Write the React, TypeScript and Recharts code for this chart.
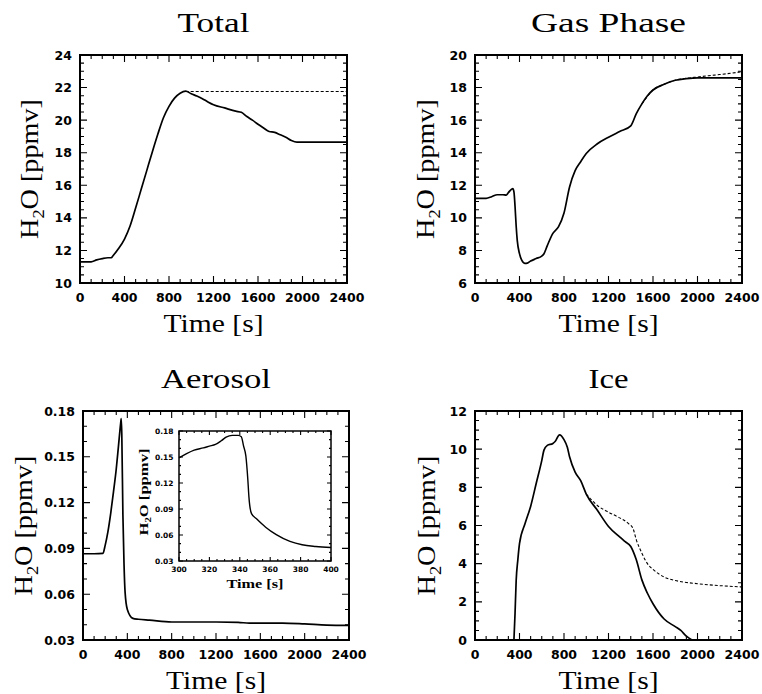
import React from 'react';
import { LineChart, Line, XAxis, YAxis } from 'recharts';

// time axis (s)
const timeMajor = [0, 400, 800, 1200, 1600, 2000, 2400];
const insetTimeMajor = [300, 320, 340, 360, 380, 400];

// Total
const totalTime = [0, 100, 150, 200, 250, 280, 300, 345, 400, 450, 500, 550, 600, 650, 700, 750, 800, 850, 900, 950, 1000, 1050, 1100, 1150, 1200, 1300, 1400, 1450, 1500, 1550, 1600, 1650, 1700, 1750, 1800, 1850, 1900, 1950, 2000, 2400];
const totalH2O = [11.3, 11.3, 11.42, 11.5, 11.55, 11.55, 11.7, 12.1, 12.7, 13.5, 14.6, 15.75, 16.9, 18.05, 19.15, 20.15, 20.85, 21.35, 21.65, 21.78, 21.62, 21.48, 21.32, 21.12, 20.95, 20.75, 20.55, 20.48, 20.22, 20.0, 19.75, 19.52, 19.3, 19.25, 19.1, 18.95, 18.75, 18.65, 18.65, 18.65];
const totalRefTime = [950, 2400];
const totalRefH2O = [21.76, 21.76];
const totalYMajor = [10, 12, 14, 16, 18, 20, 22, 24];

// Gas phase
const gasTime = [0, 100, 150, 200, 250, 280, 300, 340, 350, 360, 370, 380, 400, 420, 450, 470, 500, 550, 600, 620, 650, 700, 750, 800, 850, 900, 950, 1000, 1100, 1200, 1300, 1400, 1450, 1500, 1550, 1600, 1700, 1800, 1900, 2000, 2400];
const gasH2O = [11.2, 11.2, 11.3, 11.42, 11.42, 11.4, 11.55, 11.8, 11.6, 10.7, 9.5, 8.6, 7.8, 7.4, 7.2, 7.22, 7.35, 7.5, 7.65, 7.8, 8.3, 9.05, 9.45, 10.3, 11.9, 12.9, 13.45, 13.95, 14.55, 14.95, 15.3, 15.65, 16.4, 17.0, 17.5, 17.85, 18.2, 18.45, 18.55, 18.6, 18.6];
const gasRefTime = [1500, 1600, 1700, 1800, 1900, 2000, 2100, 2200, 2300, 2400];
const gasRefH2O = [17.0, 17.85, 18.2, 18.45, 18.57, 18.65, 18.73, 18.8, 18.88, 18.97];
const gasYMajor = [6, 8, 10, 12, 14, 16, 18, 20];

// Aerosol
const aerTime = [0, 100, 180, 200, 225, 250, 275, 300, 320, 340, 345, 350, 360, 370, 380, 400, 450, 500, 600, 800, 1000, 1200, 1400, 1500, 1800, 2000, 2200, 2400];
const aerH2O = [0.0865, 0.0865, 0.0868, 0.092, 0.101, 0.113, 0.127, 0.142, 0.157, 0.172, 0.175, 0.165, 0.112, 0.08, 0.061, 0.05, 0.0442, 0.0436, 0.043, 0.0418, 0.0418, 0.0418, 0.0416, 0.041, 0.041, 0.0405, 0.0398, 0.0396];
const aerYMajor = [0.03, 0.06, 0.09, 0.12, 0.15, 0.18];

// Aerosol inset (300-400 s)
const insetTime = [300, 305, 310, 316, 320, 324, 328, 331, 335, 339, 341, 342.5, 344, 345.3, 346, 347.7, 351, 357, 364, 373, 381, 390, 400];
const insetH2O = [0.149, 0.154, 0.158, 0.1605, 0.1625, 0.1645, 0.169, 0.173, 0.175, 0.175, 0.1734, 0.1625, 0.151, 0.1235, 0.104, 0.0846, 0.0787, 0.069, 0.0604, 0.0526, 0.0487, 0.0468, 0.0456];

// Ice
const iceTime = [350, 360, 370, 385, 400, 450, 500, 550, 600, 620, 650, 700, 720, 760, 800, 830, 850, 900, 950, 1000, 1100, 1200, 1300, 1350, 1400, 1450, 1500, 1550, 1600, 1700, 1800, 1850, 1900, 1950];
const iceH2O = [0, 1.4, 3.1, 4.2, 5.05, 6.1, 7.0, 8.2, 9.4, 9.95, 10.2, 10.3, 10.4, 10.75, 10.5, 10.1, 9.6, 8.8, 8.35, 7.65, 6.8, 5.95, 5.4, 5.15, 4.9, 4.2, 3.15, 2.45, 1.9, 1.1, 0.7, 0.5, 0.2, 0.0];
const iceRefTime = [1000, 1100, 1200, 1300, 1380, 1420, 1450, 1500, 1550, 1600, 1700, 1800, 2000, 2200, 2400];
const iceRefH2O = [7.65, 7.05, 6.7, 6.4, 6.1, 5.85, 5.25, 4.55, 4.0, 3.7, 3.3, 3.12, 2.95, 2.85, 2.78];
const iceYMajor = [0, 2, 4, 6, 8, 10, 12];

const zip = (ts: number[], vs: number[]) => ts.map((t, i) => ({ t, v: vs[i] }));
const steps = (a: number, b: number, step: number) =>
  Array.from({ length: Math.round((b - a) / step) + 1 }, (_, i) => +(a + i * step).toFixed(6));
const isMajor = (majors: number[], v: number) => majors.some((m) => Math.abs(m - v) < 1e-9);

type Rect = { left: number; top: number; right: number; bottom: number };
type TickStyle = { majorLen: number; minorLen: number; fontSize: number; gap: number; yGap: number };
type Series = { data: { t: number; v: number }[]; dashed?: boolean };
type PanelCfg = {
  rect: Rect;
  xDomain: [number, number];
  xMajor: number[];
  xMinor: number;
  yDomain: [number, number];
  yMajor: number[];
  yMinor: number;
  yFmt: (v: number) => string;
  ts: TickStyle;
  frame: number;
  lineWidth: number;
  series: Series[];
};

const tickFont = '"DejaVu Sans", sans-serif';
const serif = '"Liberation Serif", "Times New Roman", serif';

// tick labels (text only; the inward tick marks and box are drawn by <Frame/>)
const xLabel = (majors: number[], st: TickStyle) => (props: any) => {
  const v = props.payload.value;
  if (!isMajor(majors, v)) return <g />;
  return (
    <text x={props.x} y={Number(props.y) + st.gap} textAnchor="middle" fontFamily={tickFont} fontWeight={700} fontSize={st.fontSize} fill="#000">
      {String(v)}
    </text>
  );
};
const yLabel = (majors: number[], st: TickStyle, fmt: (v: number) => string) => (props: any) => {
  const v = props.payload.value;
  if (!isMajor(majors, v)) return <g />;
  return (
    <text x={Number(props.x) - st.yGap} y={props.y} dy="0.36em" textAnchor="end" fontFamily={tickFont} fontWeight={700} fontSize={st.fontSize} fill="#000">
      {fmt(v)}
    </text>
  );
};

const Panel: React.FC<{ cfg: PanelCfg }> = ({ cfg }) => {
  const { rect, xDomain, xMajor, xMinor, yDomain, yMajor, yMinor, yFmt, ts, lineWidth, series } = cfg;
  const pad = { l: 70, t: 20, r: 25, b: 30 };
  const band = { l: 60, b: 25 };
  const w = rect.right - rect.left + pad.l + pad.r;
  const h = rect.bottom - rect.top + pad.t + pad.b;
  const common = { tickSize: 0, tickMargin: 0, tickLine: false, axisLine: false, interval: 0 as const };
  return (
    <div style={{ position: 'absolute', left: rect.left - pad.l, top: rect.top - pad.t }}>
      <LineChart width={w} height={h} margin={{ top: pad.t, right: pad.r, bottom: pad.b - band.b, left: pad.l - band.l }}>
        <XAxis xAxisId="b" orientation="bottom" type="number" dataKey="t" domain={xDomain} ticks={steps(xDomain[0], xDomain[1], xMinor)}
          height={band.b} tick={xLabel(xMajor, ts)} {...common} />
        <YAxis yAxisId="l" orientation="left" type="number" domain={yDomain} ticks={steps(yDomain[0], yDomain[1], yMinor)}
          width={band.l} tick={yLabel(yMajor, ts, yFmt)} {...common} />
        {series.map((s, i) => (
          <Line key={i} xAxisId="b" yAxisId="l" data={s.data} dataKey="v" type="monotone" dot={false}
            stroke="#000" strokeWidth={s.dashed ? 1.1 : lineWidth} strokeDasharray={s.dashed ? '3 2' : undefined}
            isAnimationActive={false} />
        ))}
      </LineChart>
    </div>
  );
};

// PGPLOT-style box with inward major/minor ticks on all four sides
const Frame: React.FC<{ cfg: PanelCfg }> = ({ cfg }) => {
  const { rect: r, xDomain, xMajor, xMinor, yDomain, yMajor, yMinor, ts, frame } = cfg;
  const sx = (v: number) => r.left + ((v - xDomain[0]) / (xDomain[1] - xDomain[0])) * (r.right - r.left);
  const sy = (v: number) => r.bottom - ((v - yDomain[0]) / (yDomain[1] - yDomain[0])) * (r.bottom - r.top);
  let d = '';
  steps(xDomain[0], xDomain[1], xMinor).forEach((v) => {
    const L = isMajor(xMajor, v) ? ts.majorLen : ts.minorLen;
    const x = sx(v);
    d += `M${x},${r.bottom}V${r.bottom - L}M${x},${r.top}V${r.top + L}`;
  });
  steps(yDomain[0], yDomain[1], yMinor).forEach((v) => {
    const L = isMajor(yMajor, v) ? ts.majorLen : ts.minorLen;
    const y = sy(v);
    d += `M${r.left},${y}H${r.left + L}M${r.right},${y}H${r.right - L}`;
  });
  return (
    <g>
      <path d={d} stroke="#000" strokeWidth={1.1} fill="none" />
      <rect x={r.left} y={r.top} width={r.right - r.left} height={r.bottom - r.top} stroke="#000" strokeWidth={frame} fill="none" />
    </g>
  );
};

const rTotal: Rect = { left: 80, top: 55, right: 347, bottom: 283 };
const rGas: Rect = { left: 475, top: 55, right: 742, bottom: 283 };
const rAer: Rect = { left: 83, top: 411, right: 349, bottom: 640 };
const rIce: Rect = { left: 475, top: 411, right: 742, bottom: 640 };
const rInset: Rect = { left: 179, top: 431, right: 331, bottom: 561 };

const mainTicks: TickStyle = { majorLen: 7, minorLen: 4, fontSize: 12.5, gap: 18.5, yGap: 8 };
const insetTicks: TickStyle = { majorLen: 4, minorLen: 2, fontSize: 7.5, gap: 10.5, yGap: 5.5 };
const f2 = (v: number) => v.toFixed(2);
const fi = (v: number) => String(v);

const panels: PanelCfg[] = [
  { rect: rTotal, xDomain: [0, 2400], xMajor: timeMajor, xMinor: 100, yDomain: [10, 24], yMajor: totalYMajor, yMinor: 0.5, yFmt: fi,
    ts: mainTicks, frame: 2, lineWidth: 1.7, series: [{ data: zip(totalTime, totalH2O) }, { data: zip(totalRefTime, totalRefH2O), dashed: true }] },
  { rect: rGas, xDomain: [0, 2400], xMajor: timeMajor, xMinor: 100, yDomain: [6, 20], yMajor: gasYMajor, yMinor: 0.5, yFmt: fi,
    ts: mainTicks, frame: 2, lineWidth: 1.7, series: [{ data: zip(gasTime, gasH2O) }, { data: zip(gasRefTime, gasRefH2O), dashed: true }] },
  { rect: rAer, xDomain: [0, 2400], xMajor: timeMajor, xMinor: 100, yDomain: [0.03, 0.18], yMajor: aerYMajor, yMinor: 0.01, yFmt: f2,
    ts: mainTicks, frame: 2, lineWidth: 1.7, series: [{ data: zip(aerTime, aerH2O) }] },
  { rect: rInset, xDomain: [300, 400], xMajor: insetTimeMajor, xMinor: 5, yDomain: [0.03, 0.18], yMajor: aerYMajor, yMinor: 0.01, yFmt: f2,
    ts: insetTicks, frame: 1.5, lineWidth: 1.4, series: [{ data: zip(insetTime, insetH2O) }] },
  { rect: rIce, xDomain: [0, 2400], xMajor: timeMajor, xMinor: 100, yDomain: [0, 12], yMajor: iceYMajor, yMinor: 0.5, yFmt: fi,
    ts: mainTicks, frame: 2, lineWidth: 1.7, series: [{ data: zip(iceTime, iceH2O) }, { data: zip(iceRefTime, iceRefH2O), dashed: true }] },
];

const YTitle = ({ x, y, size, len, bold, sub }: { x: number; y: number; size: number; len: number; bold?: boolean; sub: number }) => (
  <text transform={`translate(${x},${y}) rotate(-90)`} textAnchor="middle" fontFamily={serif} fontSize={size}
    fontWeight={bold ? 700 : 400} textLength={len} lengthAdjust="spacingAndGlyphs">
    <tspan>H</tspan>
    <tspan fontSize={size * 0.65} dy={sub}>2</tspan>
    <tspan dy={-sub}>O [ppmv]</tspan>
  </text>
);

const Overlay = () => {
  const titles: [string, Rect, number][] = [
    ['Total', rTotal, 72],
    ['Gas Phase', rGas, 155],
    ['Aerosol', rAer, 110],
    ['Ice', rIce, 40],
  ];
  const yOff = [42, 41, 51, 40];
  return (
    <svg width={762} height={694} style={{ position: 'absolute', left: 0, top: 0, pointerEvents: 'none' }}>
      {panels.map((p, i) => <Frame key={i} cfg={p} />)}
      {titles.map(([t, r, len], i) => {
        const cx = (r.left + r.right) / 2;
        const cy = (r.top + r.bottom) / 2;
        return (
          <g key={t}>
            <text x={cx} y={r.top - 23} textAnchor="middle" fontFamily={serif} fontSize={27} textLength={len} lengthAdjust="spacingAndGlyphs">{t}</text>
            <text x={cx} y={r.bottom + 48.5} textAnchor="middle" fontFamily={serif} fontSize={25} textLength={100} lengthAdjust="spacingAndGlyphs">Time [s]</text>
            <YTitle x={r.left - yOff[i]} y={cy} size={25} len={140} sub={6} />
          </g>
        );
      })}
      <text x={(rInset.left + rInset.right) / 2} y={588} textAnchor="middle" fontFamily={serif} fontWeight={700} fontSize={13.5} textLength={57} lengthAdjust="spacingAndGlyphs">Time [s]</text>
      <YTitle x={148} y={492} size={13} len={87} bold sub={3} />
    </svg>
  );
};

export default function App() {
  return (
    <div style={{ position: 'absolute', left: 0, top: 0, width: 762, height: 694, background: '#fff' }}>
      {panels.map((p, i) => <Panel key={i} cfg={p} />)}
      <Overlay />
    </div>
  );
}
